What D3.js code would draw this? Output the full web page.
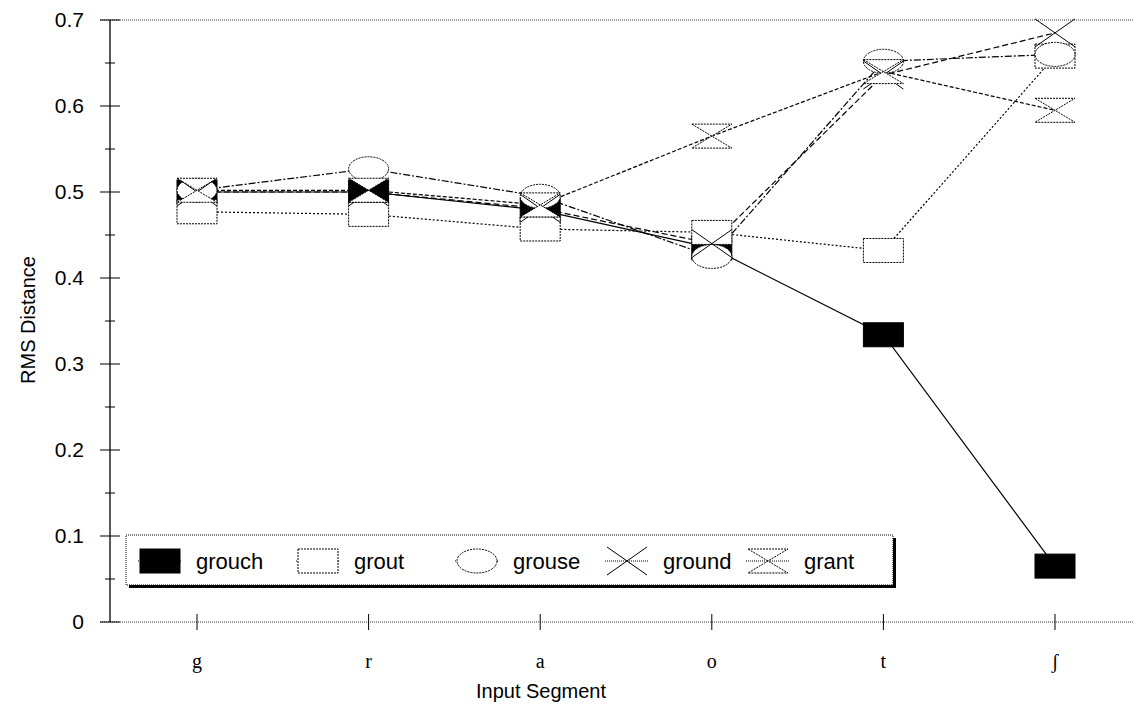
<!DOCTYPE html>
<html>
<head>
<meta charset="utf-8">
<script src="https://cdn.jsdelivr.net/npm/d3@7"></script>
<style>
  body { margin: 0; background: #fff; }
  svg { display: block; }
</style>
</head>
<body>
<div id="container"></div>
<script>
// chart data
const segments = ["g", "r", "a", "o", "t", "ʃ"];
const grouch = [0.50, 0.50, 0.479, 0.435, 0.334, 0.065];
const grout  = [0.477, 0.474, 0.457, 0.453, 0.432, 0.658];
const grouse = [0.502, 0.527, 0.495, 0.425, 0.652, 0.66];
const ground = [0.50, 0.50, 0.481, 0.44, 0.636, 0.685];
const grant  = [0.502, 0.502, 0.485, 0.565, 0.64, 0.595];
const yTicks = [0, 0.1, 0.2, 0.3, 0.4, 0.5, 0.6, 0.7];

const width = 1133, height = 707;

const svg = d3.select("#container")
    .append("svg")
    .attr("width", width)
    .attr("height", height);

const x = d3.scalePoint().domain(segments).range([197, 1055]);
const y = d3.scaleLinear().domain([0, 0.7]).range([622, 20]);
const axisX = 110;

// series: name, values, marker type, dash pattern
const series = [
    { name: "grouch", values: grouch, marker: "fillrect", dash: null },
    { name: "grout",  values: grout,  marker: "rect",     dash: "2,2" },
    { name: "grouse", values: grouse, marker: "ellipse",  dash: "7,2,2,2" },
    { name: "ground", values: ground, marker: "cross",    dash: "6,3" },
    { name: "grant",  values: grant,  marker: "hourglass", dash: "4,2" }
];

// frame: top border and x axis dotted, y axis solid
svg.append("line")
    .attr("x1", 100).attr("x2", width)
    .attr("y1", y(0.7)).attr("y2", y(0.7))
    .attr("stroke", "#333").attr("stroke-dasharray", "1,1");
svg.append("line")
    .attr("x1", 100).attr("x2", width)
    .attr("y1", y(0)).attr("y2", y(0))
    .attr("stroke", "#333").attr("stroke-dasharray", "1,1");
svg.append("line")
    .attr("x1", axisX).attr("x2", axisX)
    .attr("y1", y(0.7)).attr("y2", y(0))
    .attr("stroke", "#000").attr("stroke-width", 1.3);

// y axis labels via d3 axis
const yAxis = svg.append("g")
    .attr("transform", `translate(${axisX - 26},0)`)
    .call(d3.axisLeft(y).tickValues(yTicks).tickSize(0).tickPadding(0)
        .tickFormat(d => d === 0 ? "0" : d3.format(".1f")(d)));
yAxis.select(".domain").remove();
yAxis.selectAll("text")
    .attr("font-family", "Liberation Sans, Arial, sans-serif")
    .attr("font-size", 21)
    .attr("fill", "#000");

// y ticks crossing the axis, with minor ticks between
svg.append("g")
    .selectAll("line")
    .data(d3.range(0, 15).map(i => i * 0.05))
    .enter()
    .append("line")
    .attr("x1", (d, i) => i % 2 === 0 ? axisX - 10 : axisX - 5)
    .attr("x2", (d, i) => i % 2 === 0 ? axisX + 10 : axisX + 5)
    .attr("y1", d => y(d)).attr("y2", d => y(d))
    .attr("stroke", "#000").attr("stroke-width", 1);

// x ticks and labels
svg.append("g")
    .selectAll("line")
    .data(segments)
    .enter()
    .append("line")
    .attr("x1", d => x(d)).attr("x2", d => x(d))
    .attr("y1", y(0) - 8).attr("y2", y(0) + 8)
    .attr("stroke", "#000").attr("stroke-width", 1);

svg.append("g")
    .attr("font-family", "Liberation Serif, Times New Roman, serif")
    .attr("font-size", 20)
    .attr("text-anchor", "middle")
    .selectAll("text")
    .data(segments)
    .enter()
    .append("text")
    .attr("x", d => x(d))
    .attr("y", 668)
    .text(d => d);

// axis titles
svg.append("text")
    .attr("x", 541).attr("y", 698)
    .attr("text-anchor", "middle")
    .attr("font-family", "Liberation Sans, Arial, sans-serif")
    .attr("font-size", 20)
    .text("Input Segment");

svg.append("text")
    .attr("transform", "translate(35,320) rotate(-90)")
    .attr("text-anchor", "middle")
    .attr("font-family", "Liberation Sans, Arial, sans-serif")
    .attr("font-size", 20)
    .text("RMS Distance");

// marker drawing
function drawMarker(g, type, cx, cy) {
    const w = 40, h = 24;
    if (type === "fillrect" || type === "rect") {
        g.append("rect")
            .attr("x", cx - w / 2).attr("y", cy - h / 2)
            .attr("width", w).attr("height", h)
            .attr("fill", type === "fillrect" ? "#000" : "#fff")
            .attr("stroke", "#000")
            .attr("stroke-dasharray", type === "rect" ? "2,1" : null);
    } else if (type === "ellipse") {
        g.append("ellipse")
            .attr("cx", cx).attr("cy", cy)
            .attr("rx", w / 2).attr("ry", h / 2)
            .attr("fill", "#fff")
            .attr("stroke", "#000")
            .attr("stroke-dasharray", "2,1");
    } else if (type === "cross") {
        g.append("path")
            .attr("d", `M${cx - w / 2},${cy - h / 2 - 2}L${cx + w / 2},${cy + h / 2 + 2}` +
                       `M${cx - w / 2},${cy + h / 2 + 2}L${cx + w / 2},${cy - h / 2 - 2}`)
            .attr("fill", "none")
            .attr("stroke", "#000");
    } else if (type === "hourglass") {
        g.append("path")
            .attr("d", `M${cx - w / 2},${cy - h / 2}L${cx + w / 2},${cy - h / 2}` +
                       `L${cx - w / 2},${cy + h / 2}L${cx + w / 2},${cy + h / 2}Z`)
            .attr("fill", "#fff")
            .attr("stroke", "#000")
            .attr("stroke-dasharray", "2,1");
    }
}

// series lines
const line = d3.line()
    .x((d, i) => x(segments[i]))
    .y(d => y(d));

svg.append("g")
    .selectAll("path")
    .data(series)
    .enter()
    .append("path")
    .attr("d", d => line(d.values))
    .attr("fill", "none")
    .attr("stroke", "#000")
    .attr("stroke-width", 1.2)
    .attr("stroke-dasharray", d => d.dash);

// series markers
series.forEach(s => {
    const g = svg.append("g").attr("class", "markers-" + s.name);
    s.values.forEach((v, i) => drawMarker(g, s.marker, x(segments[i]), y(v)));
});

// legend with drop shadow
const legend = svg.append("g");
legend.append("rect")
    .attr("x", 129).attr("y", 538)
    .attr("width", 767).attr("height", 50)
    .attr("fill", "#000");
legend.append("rect")
    .attr("x", 126).attr("y", 535)
    .attr("width", 767).attr("height", 50)
    .attr("fill", "#fff")
    .attr("stroke", "#000")
    .attr("stroke-dasharray", "1,1");

const legendX = [140, 298, 457, 607, 748];
series.forEach((s, i) => {
    const g = legend.append("g");
    const cx = legendX[i] + 20, cy = 561;
    g.append("line")
        .attr("x1", cx - 22).attr("x2", cx + 22)
        .attr("y1", cy).attr("y2", cy)
        .attr("stroke", "#000")
        .attr("stroke-dasharray", "1,1");
    drawMarker(g, s.marker, cx, cy);
    g.append("text")
        .attr("x", legendX[i] + 56).attr("y", cy + 8)
        .attr("font-family", "Liberation Sans, Arial, sans-serif")
        .attr("font-size", 22)
        .text(s.name);
});
</script>
</body>
</html>
